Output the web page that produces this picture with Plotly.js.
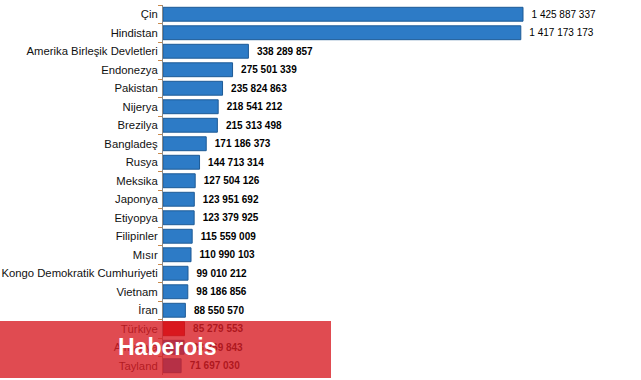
<!DOCTYPE html>
<html>
<head>
<meta charset="utf-8">
<script src="https://cdn.plot.ly/plotly-3.0.1.min.js"></script>
<style>html,body{margin:0;padding:0;background:#fff;}#chart{width:641px;height:380px;}</style>
</head>
<body>
<div id="chart"></div>
<script>
const countries = ["Çin","Hindistan","Amerika Birleşik Devletleri","Endonezya","Pakistan","Nijerya","Brezilya","Bangladeş","Rusya","Meksika","Japonya","Etiyopya","Filipinler","Mısır","Kongo Demokratik Cumhuriyeti","Vietnam","İran","Türkiye","Almanya","Tayland"];
const population = [1425887337,1417173173,338289857,275501339,235824863,218541212,215313498,171186373,144713314,127504126,123951692,123379925,115559009,110990103,99010212,98186856,88550570,85279553,83369843,71697030];
const highlight = "Türkiye";

function fmt(n){ return String(n).replace(/\B(?=(\d{3})+(?!\d))/g, " "); }
const labels = population.map((v,i) => "\u00a0\u00a0" + (i < 2 ? fmt(v) : "<b>" + fmt(v) + "</b>"));
const colors = countries.map(c => c === highlight ? "#dc0000" : "#2d7bc6");
const lineColors = countries.map(c => c === highlight ? "#a00000" : "#1d5a96");

const trace = {
  type: "bar",
  orientation: "h",
  y: countries,
  x: population,
  text: labels,
  textposition: "outside",
  cliponaxis: false,
  textfont: {family: "Liberation Sans, Arial, sans-serif", size: 10, color: "#000"},
  marker: {color: colors, line: {color: lineColors, width: 1}},
  hoverinfo: "none"
};

const maxV = Math.max(...population);
const layout = {
  width: 641, height: 380,
  margin: {l: 163, r: 0, t: 5, b: 5, pad: 0},
  paper_bgcolor: "#fff", plot_bgcolor: "#fff",
  bargap: 0.25,
  showlegend: false,
  xaxis: {range: [0, maxV * 478 / 360], visible: false, fixedrange: true},
  yaxis: {
    type: "category", autorange: "reversed",
    showline: true, linecolor: "#8a8a8a", linewidth: 1,
    ticks: "outside", tickson: "boundaries", ticklen: 4, tickcolor: "#c8894c",
    ticklabelstandoff: 2,
    showgrid: false, zeroline: false,
    tickfont: {family: "Liberation Sans, Arial, sans-serif", size: 11.3, color: "#111"}
  },
  shapes: [{
    type: "rect", xref: "paper", yref: "paper", layer: "above",
    x0: -163/478, x1: (331-163)/478,
    y0: 1 - (378-5)/370, y1: 1 - (321-5)/370,
    fillcolor: "rgba(216,30,38,0.8)", line: {width: 0}
  }],
  annotations: [{
    xref: "paper", yref: "paper",
    x: (167-163)/478, y: 1 - (347-5)/370,
    xanchor: "center", yanchor: "middle",
    text: "<b>Haberois</b>", showarrow: false,
    font: {family: "Liberation Sans, Arial, sans-serif", size: 23, color: "#fff"}
  }]
};

Plotly.newPlot("chart", [trace], layout, {staticPlot: true, displayModeBar: false});
</script>
</body>
</html>
